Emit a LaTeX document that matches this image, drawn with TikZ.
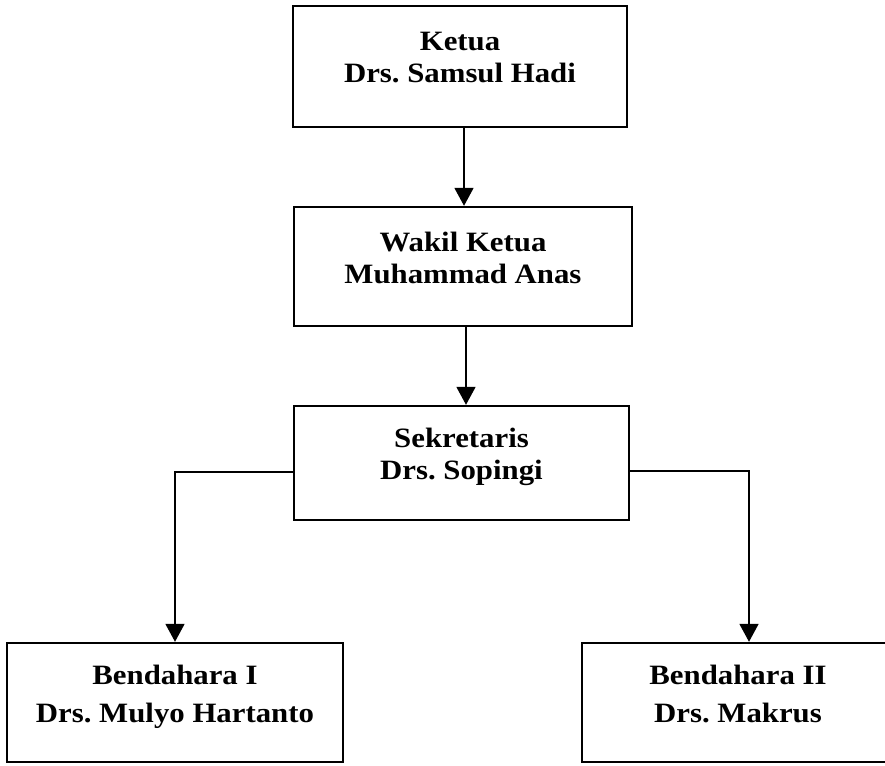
\documentclass[tikz,border=0pt]{standalone}
\usepackage{fontspec}
\setmainfont{Liberation Serif}[FakeStretch=1.1]
\usepackage{tikz}
\usetikzlibrary{positioning}
\usetikzlibrary{arrows.meta}
\frenchspacing
\tikzset{x=1pt, y=1pt,
jabatan/.style={ % Sets the properties for each box
draw,
line width=2.4pt,
align=center,
font=\bfseries\fontsize{28}{32}\selectfont,
text height=50pt,
text depth=17pt},
bawah/.style={ % Boxes of the lowest row
jabatan,
font=\bfseries\fontsize{28}{38}\selectfont,
text height=56pt},
panah/.style={ % Sets the properties for each connector
draw,
line width=1.8pt,
-{Triangle[width=19pt,length=18pt]}}}

\begin{document}
\begin{tikzpicture}
\clip (0,0) rectangle (885,-765);
\node[jabatan, minimum width=334pt, minimum height=121pt] (ketua) at (460,-66.5) {Ketua\\Drs. Samsul Hadi};
\node[jabatan, minimum width=338pt, minimum height=119pt] (wakil) at (463,-266.5) {Wakil Ketua\\Muhammad Anas};
\node[jabatan, minimum width=335pt, minimum height=114pt] (sek) at (461.5,-463) {Sekretaris\\Drs. Sopingi};
\node[bawah, minimum width=336pt, minimum height=119pt] (bend1) at (175,-702.5) {Bendahara I\\Drs. Mulyo Hartanto};
\node[bawah, minimum width=312pt, minimum height=119pt] (bend2) at (738,-702.5) {Bendahara II\\Drs. Makrus};
\draw[panah] ([xshift=4pt]ketua.south) -- ([xshift=1pt]wakil.north);
\draw[panah] ([xshift=3pt]wakil.south) -- ([xshift=4.5pt]sek.north);
\draw[panah] ([yshift=-9pt]sek.west) -| (bend1.north);
\draw[panah] ([yshift=-8pt]sek.east) -| ([xshift=11pt]bend2.north);
\end{tikzpicture}
\end{document}
